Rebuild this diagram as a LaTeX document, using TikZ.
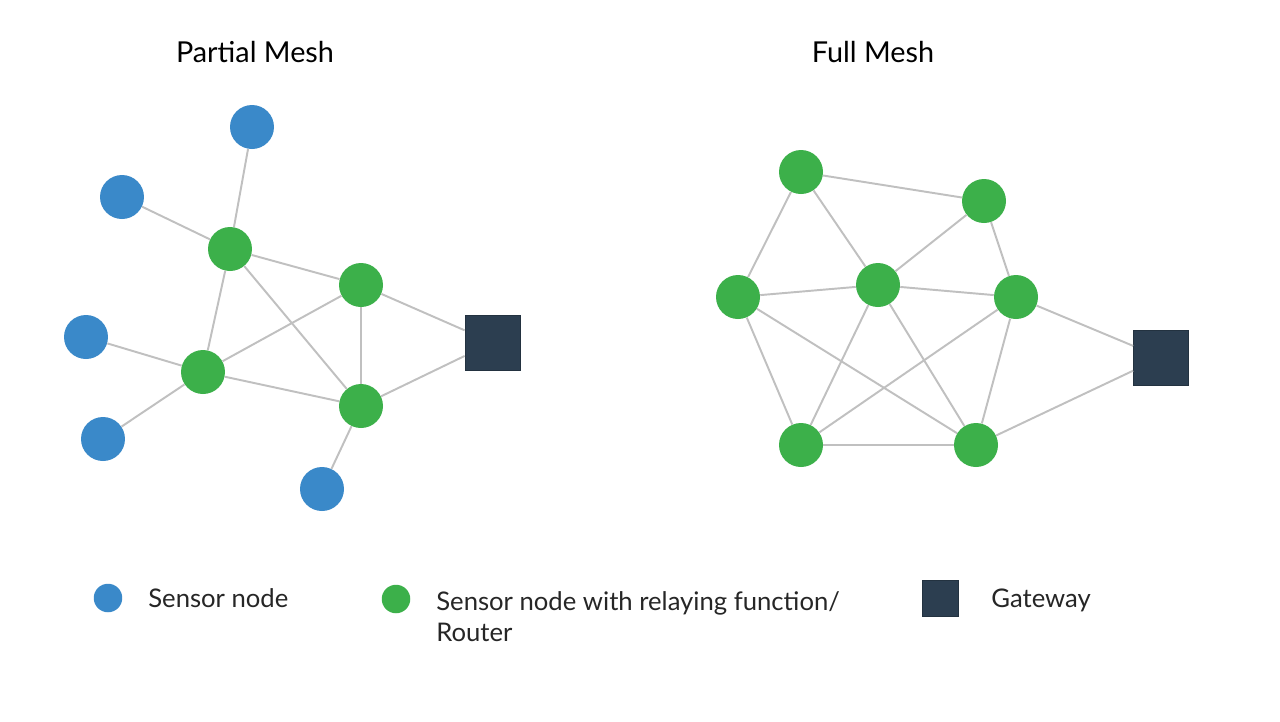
\documentclass[tikz,border=0pt]{standalone}
\usepackage{fontspec}
\setmainfont{Lato}
\usetikzlibrary{positioning, backgrounds}
\definecolor{meshblue}{RGB}{58, 137, 201}
\definecolor{meshgreen}{RGB}{60, 176, 74}
\definecolor{meshdark}{RGB}{44, 62, 80}
\definecolor{meshline}{RGB}{192, 192, 192}
\begin{document}
\begin{tikzpicture}[
    x=0.02cm, y=-0.02cm,
    sensor/.style={
        circle,
        fill=meshblue,
        draw=none,
        minimum size=0.88cm,
        inner sep=0pt
    },
    relay/.style={
        circle,
        fill=meshgreen,
        draw=none,
        minimum size=0.88cm,
        inner sep=0pt
    },
    gateway/.style={
        rectangle,
        fill=meshdark,
        draw=meshdark!80!black,
        line width=0.4pt,
        minimum size=1.1cm,
        inner sep=0pt
    },
    link/.style={
        draw=meshline,
        line width=1.1pt
    },
    title/.style={
        font=\fontsize{16.4}{19}\selectfont,
        text=black
    },
    legend/.style={
        font=\fontsize{14.6}{17.8}\selectfont,
        text=black!85,
        align=left,
        inner sep=0pt
    }
]

% Background
\useasboundingbox (0,0) rectangle (1280,721);
\fill[white] (0,0) rectangle (1280,721);

% Titles
\node[title] (ptitle) at (255,52) {Partial Mesh};
\node[title] (ftitle) at (873,52) {Full Mesh};

% Partial mesh
\node[sensor] (ps1) at (252,127) {};
\node[sensor] (ps2) at (122,197) {};
\node[sensor] (ps3) at (86,337) {};
\node[sensor] (ps4) at (103,439) {};
\node[sensor] (ps5) at (322,489) {};
\node[relay] (pr1) at (230,249) {};
\node[relay] (pr2) at (361,285) {};
\node[relay] (pr3) at (203,372) {};
\node[relay] (pr4) at (361,406) {};
\node[gateway] (pgw) at (492.5,342.5) {};

\draw[link] (ps1) -- (pr1);
\draw[link] (ps2) -- (pr1);
\draw[link] (pr1) -- (pr2);
\draw[link] (pr1) -- (pr3);
\draw[link] (pr1) -- (pr4);
\draw[link] (pr2) -- (pr3);
\draw[link] (pr2) -- (pr4);
\draw[link] (pr2) -- (pgw);
\draw[link] (ps3) -- (pr3);
\draw[link] (ps4) -- (pr3);
\draw[link] (pr3) -- (pr4);
\draw[link] (pr4) -- (pgw);
\draw[link] (pr4) -- (ps5);

% Full mesh
\node[relay] (fr1) at (801,172) {};
\node[relay] (fr2) at (984,201) {};
\node[relay] (fr3) at (738,297) {};
\node[relay] (fr4) at (878,285) {};
\node[relay] (fr5) at (1016,297) {};
\node[relay] (fr6) at (801,445) {};
\node[relay] (fr7) at (976,445) {};
\node[gateway] (fgw) at (1161,357.5) {};

\draw[link] (fr1) -- (fr2);
\draw[link] (fr1) -- (fr3);
\draw[link] (fr1) -- (fr4);
\draw[link] (fr2) -- (fr4);
\draw[link] (fr2) -- (fr5);
\draw[link] (fr3) -- (fr4);
\draw[link] (fr3) -- (fr6);
\draw[link] (fr3) -- (fr7);
\draw[link] (fr4) -- (fr5);
\draw[link] (fr4) -- (fr6);
\draw[link] (fr4) -- (fr7);
\draw[link] (fr5) -- (fr6);
\draw[link] (fr5) -- (fr7);
\draw[link] (fr6) -- (fr7);
\draw[link] (fr5) -- (fgw);
\draw[link] (fr7) -- (fgw);

% Legend
\node[sensor, minimum size=0.57cm] (lsensor) at (108,598) {};
\node[legend, anchor=west] (lsensortext) at (148,598) {Sensor node};
\node[relay, minimum size=0.57cm] (lrelay) at (396,599) {};
\node[legend, anchor=north west] (lrelaytext) at (436,591) {Sensor node with relaying function/\\Router};
\node[gateway, minimum size=0.72cm] (lgw) at (940,598.5) {};
\node[legend, anchor=west] (lgwtext) at (991,600) {Gateway};

\end{tikzpicture}
\end{document}
